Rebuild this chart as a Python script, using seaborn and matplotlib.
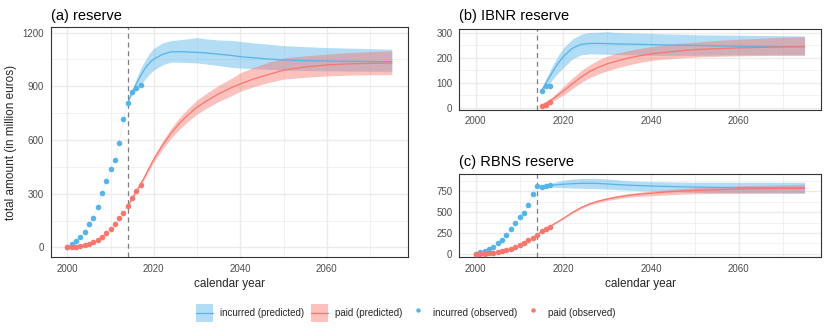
import matplotlib
matplotlib.use("Agg")
import matplotlib.pyplot as plt
import seaborn as sns
import pandas as pd
from matplotlib.patches import Patch, Rectangle
from matplotlib.lines import Line2D
from matplotlib.ticker import MultipleLocator

# ---------------- data ----------------
OBS_YEARS = list(range(2000, 2018))
OBS_YEARS_IBNR = [2015, 2016, 2017]
PRED_YEARS = [2014, 2015, 2016, 2017, 2018, 2019, 2020, 2022, 2024, 2026, 2028, 2030,
              2032, 2035, 2038, 2040, 2043, 2046, 2050, 2055, 2060, 2065, 2070, 2075]
PRED_YEARS_IBNR = PRED_YEARS[1:]

# (a) total reserve
a_inc_obs = [0, 19, 37, 56, 84, 131, 163, 225, 302, 369, 440, 491, 583, 718, 808, 870, 893, 905]
a_paid_obs = [0, 2, 4, 8, 13, 21, 31, 44, 60, 81, 102, 133, 162, 195, 230, 278, 313, 347]
a_inc_med = [808, 868, 915, 960, 1000, 1030, 1052, 1078, 1092, 1093, 1091, 1089,
             1086, 1079, 1072, 1065, 1059, 1053, 1047, 1043, 1041, 1039, 1038, 1037]
a_inc_hi = [808, 880, 945, 1000, 1045, 1085, 1112, 1142, 1155, 1160, 1165, 1172,
            1165, 1158, 1156, 1150, 1142, 1136, 1127, 1121, 1116, 1113, 1110, 1107]
a_inc_lo = [808, 855, 880, 910, 940, 968, 990, 1020, 1035, 1034, 1032, 1030,
            1025, 1015, 1005, 1002, 998, 995, 990, 988, 986, 985, 984, 983]
a_paid_med = [230, 272, 315, 355, 400, 447, 492, 570, 638, 695, 742, 783,
              815, 858, 893, 913, 940, 962, 990, 1008, 1019, 1025, 1028, 1030]
a_paid_hi = [230, 275, 320, 363, 410, 460, 508, 592, 665, 727, 778, 823,
             858, 905, 945, 975, 1005, 1030, 1058, 1070, 1080, 1088, 1094, 1098]
a_paid_lo = [230, 268, 308, 347, 388, 433, 476, 548, 610, 662, 705, 745,
             775, 815, 848, 872, 897, 918, 940, 950, 958, 962, 964, 965]

# (b) IBNR reserve
b_inc_obs = [68, 88, 88]
b_paid_obs = [8, 12, 22]
b_inc_med = [68, 98, 128, 157, 183, 205, 238, 254, 258, 258, 257,
             256, 255, 254, 253, 252, 251, 250, 248, 247, 246, 245, 245]
b_inc_hi = [75, 115, 150, 185, 215, 240, 275, 295, 302, 303, 305,
            302, 300, 299, 298, 296, 295, 293, 292, 291, 290, 289, 288]
b_inc_lo = [62, 80, 100, 123, 143, 160, 195, 212, 216, 215, 214,
            213, 212, 211, 210, 210, 210, 210, 211, 212, 212, 212, 212]
b_paid_med = [9, 18, 28, 40, 53, 66, 95, 122, 145, 162, 176,
              186, 200, 210, 216, 222, 227, 233, 237, 240, 242, 244, 245]
b_paid_hi = [12, 24, 36, 52, 68, 85, 118, 148, 172, 192, 207,
             218, 230, 240, 245, 252, 258, 263, 270, 275, 279, 283, 285]
b_paid_lo = [6, 13, 22, 30, 40, 50, 75, 100, 120, 135, 148,
             158, 172, 183, 189, 195, 199, 203, 206, 208, 209, 210, 210]

# (c) RBNS reserve
c_inc_obs = [0, 19, 37, 56, 84, 131, 163, 225, 302, 369, 440, 491, 583, 718, 808, 802, 810, 818]
c_paid_obs = [0, 2, 4, 8, 13, 21, 31, 44, 60, 81, 102, 133, 162, 195, 230, 270, 301, 325]
c_inc_med = [808, 808, 812, 818, 823, 828, 832, 838, 842, 843, 840, 835,
             828, 820, 814, 810, 806, 802, 798, 794, 791, 790, 790, 790]
c_inc_hi = [808, 815, 825, 838, 855, 870, 880, 893, 900, 903, 900, 895,
            885, 872, 866, 863, 860, 858, 855, 855, 855, 855, 855, 855]
c_inc_lo = [808, 800, 798, 797, 795, 792, 790, 786, 783, 781, 778, 774,
            768, 760, 753, 750, 745, 740, 734, 730, 727, 725, 723, 722]
c_paid_med = [230, 268, 300, 330, 362, 393, 425, 493, 552, 598, 630, 655,
              675, 700, 716, 724, 737, 747, 758, 766, 773, 777, 780, 782]
c_paid_hi = [230, 270, 303, 335, 368, 400, 433, 503, 565, 613, 647, 673,
             695, 722, 740, 750, 765, 777, 790, 802, 812, 820, 826, 831]
c_paid_lo = [230, 266, 297, 325, 356, 386, 417, 483, 539, 583, 613, 637,
             655, 678, 690, 695, 703, 710, 718, 722, 725, 727, 729, 730]

TITLES = ["(a) reserve", "(b) IBNR reserve", "(c) RBNS reserve"]
LEGEND_LABELS = ["incurred (predicted)", "paid (predicted)",
                 "incurred (observed)", "paid (observed)"]
X_LABEL = "calendar year"
Y_LABEL = "total amount (in million euros)"
CUTOFF_YEAR = 2014

# ---------------- style ----------------
sns.set_style("white")
plt.rcParams['font.family'] = ['Liberation Sans', 'DejaVu Sans']

BLUE = "#56B4E9"
RED = "#F8766D"
BAND_ALPHA = 0.45
GRID = "#EBEBEB"
BORDER = "#333333"
TICKTXT = "#4D4D4D"

fig = plt.figure(figsize=(8.3, 3.32), dpi=100)
axA = fig.add_axes([51 / 830, 1 - 257.3 / 332, (408 - 51) / 830, (257.3 - 26.8) / 332])
axB = fig.add_axes([459.3 / 830, 1 - 109.5 / 332, (821 - 459.3) / 830, (109.5 - 28.5) / 332])
axC = fig.add_axes([459.3 / 830, 1 - 257.3 / 332, (821 - 459.3) / 830, (257.3 - 174.3) / 332])


def draw_panel(ax, obs_years, inc_obs, paid_obs, pred_years,
               inc_med, inc_lo, inc_hi, paid_med, paid_lo, paid_hi,
               ylim, ymajor, yminor, title, title_pad):
    ax.set_xlim(1996.25, 2078.75)
    ax.set_ylim(*ylim)
    ax.xaxis.set_major_locator(MultipleLocator(20))
    ax.xaxis.set_minor_locator(MultipleLocator(10))
    ax.yaxis.set_major_locator(MultipleLocator(ymajor))
    ax.yaxis.set_minor_locator(MultipleLocator(yminor))
    ax.grid(which="major", color=GRID, lw=1.0, zorder=0)
    ax.grid(which="minor", color=GRID, lw=0.5, zorder=0)
    ax.set_axisbelow(True)
    for s in ax.spines.values():
        s.set_color(BORDER)
        s.set_linewidth(0.8)
    ax.tick_params(which="major", direction="out", length=3, width=0.6,
                   color=BORDER, labelcolor=TICKTXT, labelsize=7, pad=2)
    ax.tick_params(which="minor", length=0)

    ax.axvline(CUTOFF_YEAR, color="#7F7F7F", lw=0.9, ls=(0, (4, 3)), zorder=1)

    ax.fill_between(pred_years, inc_lo, inc_hi, color=BLUE, alpha=BAND_ALPHA,
                    lw=0, zorder=2)
    ax.fill_between(pred_years, paid_lo, paid_hi, color=RED, alpha=BAND_ALPHA,
                    lw=0, zorder=2)

    sns.lineplot(x=pred_years, y=inc_med, ax=ax, color=BLUE, lw=0.9, zorder=3)
    sns.lineplot(x=pred_years, y=paid_med, ax=ax, color=RED, lw=0.9, zorder=3)

    # faint connection of observed points
    sns.lineplot(x=obs_years, y=inc_obs, ax=ax, color=BLUE, lw=0.5, alpha=0.2, zorder=3)
    sns.lineplot(x=obs_years, y=paid_obs, ax=ax, color=RED, lw=0.5, alpha=0.2, zorder=3)

    sns.scatterplot(x=obs_years, y=inc_obs, ax=ax, color=BLUE, s=16,
                    linewidth=0, zorder=4)
    sns.scatterplot(x=obs_years, y=paid_obs, ax=ax, color=RED, s=16,
                    linewidth=0, zorder=4)

    ax.set_title(title, loc="left", fontsize=10.5, pad=title_pad, color="black")
    ax.set_xlabel("")
    ax.set_ylabel("")


draw_panel(axA, OBS_YEARS, a_inc_obs, a_paid_obs, PRED_YEARS,
           a_inc_med, a_inc_lo, a_inc_hi, a_paid_med, a_paid_lo, a_paid_hi,
           (-55, 1232), 300, 150, TITLES[0], 5)
draw_panel(axB, OBS_YEARS_IBNR, b_inc_obs, b_paid_obs, PRED_YEARS_IBNR,
           b_inc_med, b_inc_lo, b_inc_hi, b_paid_med, b_paid_lo, b_paid_hi,
           (-8, 318), 100, 50, TITLES[1], 6)
draw_panel(axC, OBS_YEARS, c_inc_obs, c_paid_obs, PRED_YEARS,
           c_inc_med, c_inc_lo, c_inc_hi, c_paid_med, c_paid_lo, c_paid_hi,
           (-40, 950), 250, 125, TITLES[2], 6)

axA.set_xlabel(X_LABEL, fontsize=8.5, labelpad=3)
axC.set_xlabel(X_LABEL, fontsize=8.5, labelpad=3)
axA.set_ylabel(Y_LABEL, fontsize=8.5, labelpad=4)


# legend: band key = filled square with a line through its middle
class BandLineHandler:
    def legend_artist(self, legend, orig_handle, fontsize, handlebox):
        x0, y0 = -handlebox.xdescent, -handlebox.ydescent
        w, h = handlebox.width, handlebox.height
        col = orig_handle.get_facecolor()[:3]
        rect = Rectangle((x0, y0), w, h, facecolor=col, alpha=BAND_ALPHA, lw=0,
                         transform=handlebox.get_transform())
        line = Line2D([x0, x0 + w], [y0 + h / 2, y0 + h / 2], color=col, lw=0.9,
                      transform=handlebox.get_transform())
        handlebox.add_artist(rect)
        handlebox.add_artist(line)
        return rect


handles = [
    Patch(facecolor=BLUE),
    Patch(facecolor=RED),
    Line2D([], [], marker="o", ls="", color=BLUE, markersize=3.2, markeredgewidth=0),
    Line2D([], [], marker="o", ls="", color=RED, markersize=3.2, markeredgewidth=0),
]
fig.legend(handles, LEGEND_LABELS, loc="center", bbox_to_anchor=(0.489, 0.057),
           ncol=4, frameon=False, fontsize=7, handlelength=1.75, handleheight=2.5,
           handletextpad=0.7, columnspacing=0.7,
           handler_map={Patch: BandLineHandler()})

fig.savefig("out.png", dpi=100)
